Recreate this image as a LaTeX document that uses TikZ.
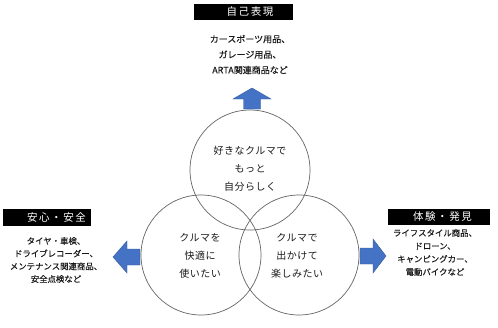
\documentclass[tikz,border=0pt]{standalone}
\usepackage{fontspec}
\setmainfont{Noto Sans CJK JP}
\newfontfamily\tagfont[LetterSpace=15]{Noto Sans CJK JP}
\newfontfamily\ringfont[LetterSpace=5]{Noto Sans CJK JP}
\newfontfamily\itemfont[FakeBold=0.35]{Noto Sans CJK JP}
\usetikzlibrary{positioning}
\definecolor{arrowblue}{RGB}{68,114,196}
\definecolor{arrowedge}{RGB}{52,90,160}
\definecolor{ringgray}{RGB}{100,100,100}
\definecolor{textdark}{RGB}{25,25,25}

\begin{document}
\begin{tikzpicture}[x=1pt,y=-1pt,
    ring/.style={circle,draw=ringgray,line width=0.7pt,minimum size=120pt,inner sep=0pt},
    ringtext/.style={align=center,text=textdark,font=\ringfont\fontsize{10}{18}\selectfont},
    tagbox/.style={fill=black,minimum height=16pt,inner sep=0pt},
    tagtext/.style={text=white,font=\tagfont\fontsize{10.5}{12}\selectfont},
    itemtext/.style={align=center,text=textdark},
    blockarrow/.style={fill=arrowblue,draw=arrowedge,line width=0.4pt}]
  \useasboundingbox (0,0) rectangle (498,327);
  % the three rings
  \node[ring] (ringself) at (250,170) {};
  \node[ring] (ringsafe) at (201,255) {};
  \node[ring] (ringfun) at (299,255) {};
  \node[ringtext] (selftxt) at (250,169) {好きなクルマで\\もっと\\自分らしく};
  \node[ringtext] (safetxt) at (200,255.5) {クルマを\\快適に\\使いたい};
  \node[ringtext] (funtxt) at (297,255.5) {クルマで\\出かけて\\楽しみたい};
  % block arrows
  \coordinate (upbase) at (252,109);
  \coordinate (leftbase) at (140,257);
  \coordinate (rightbase) at (360,256);
  \fill[blockarrow] (upbase) ++(-8.5,0) -- ++(0,-10) -- ++(-10.5,0) -- ++(19,-11)
    -- ++(19,11) -- ++(-10.5,0) -- ++(0,10) -- cycle;
  \fill[blockarrow] (leftbase) ++(0,-8) -- ++(-13,0) -- ++(0,-8) -- ++(-14,16)
    -- ++(14,16) -- ++(0,-8) -- ++(13,0) -- cycle;
  \fill[blockarrow] (rightbase) ++(0,-8) -- ++(13,0) -- ++(0,-9) -- ++(13,17)
    -- ++(-13,17) -- ++(0,-9) -- ++(-13,0) -- cycle;
  % titles
  \node[tagbox,minimum width=99pt,label={[tagtext,xshift=6.5pt]center:自己表現}] (self) at (243.5,12) {};
  \node[tagbox,minimum width=88pt,minimum height=17pt,label={[tagtext,xshift=9.5pt]center:安心・安全}] (safe) at (47,217.5) {};
  \node[tagbox,minimum width=102pt,label={[tagtext,xshift=3.5pt]center:体験・発見}] (explore) at (439,217) {};
  % item lists
  \node[itemtext,font=\itemfont\fontsize{9}{15.5}\selectfont] (selfitems) at (250,54.5)
    {カースポーツ用品、\\ガレージ用品、\\ARTA関連商品など};
  \node[itemtext,font=\itemfont\fontsize{8.4}{12.7}\selectfont] (safeitems) at (56,260)
    {タイヤ・車検、\\ドライブレコーダー、\\メンテナンス関連商品、\\安全点検など};
  \node[itemtext,font=\itemfont\fontsize{8.4}{13}\selectfont] (exploreitems) at (435,252.5)
    {ライフスタイル商品、\\ドローン、\\キャンピングカー、\\電動バイクなど};
\end{tikzpicture}
\end{document}
